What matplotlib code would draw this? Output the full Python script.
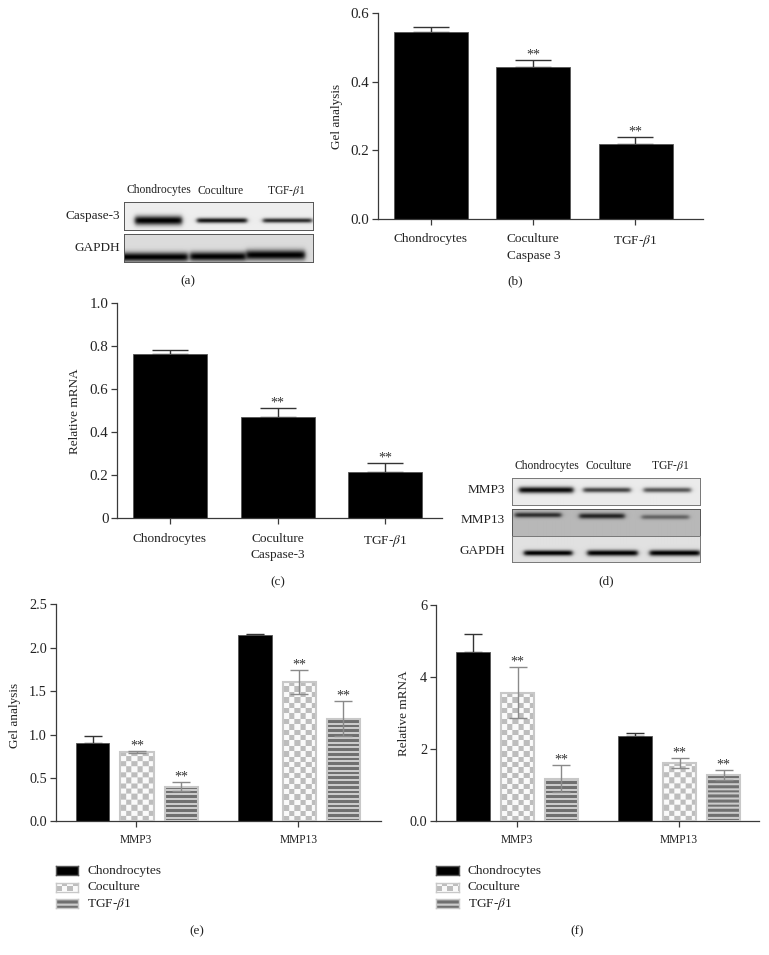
#!/usr/bin/env python3
"""Six panel figure: western blots (a, d) and bar charts (b, c, e, f)."""
import matplotlib
matplotlib.use("Agg")
import matplotlib.pyplot as plt
import numpy as np

plt.rcParams["font.family"] = ["Liberation Serif", "DejaVu Serif"]
plt.rcParams["mathtext.fontset"] = "stix"

W, H = 769, 955
AXC = "#3a3a3a"
TGF = r"TGF-$\beta$1"

groups_single = ["Chondrocytes", "Coculture", TGF]
groups_legend = ["Chondrocytes", "Coculture", TGF]
groups_mmp = ["MMP3", "MMP13"]

# bar heights and error bar tops
gel_casp = [0.545, 0.442, 0.218]
gel_casp_top = [0.561, 0.465, 0.239]
mrna_casp = [0.762, 0.470, 0.216]
mrna_casp_top = [0.779, 0.510, 0.257]

gel_mmp3 = [0.90, 0.795, 0.40]
gel_mmp3_top = [0.983, 0.806, 0.449]
gel_mmp13 = [2.143, 1.608, 1.182]
gel_mmp13_top = [2.155, 1.747, 1.382]

mrna_mmp3 = [4.70, 3.57, 1.18]
mrna_mmp3_top = [5.19, 4.27, 1.55]
mrna_mmp13 = [2.37, 1.61, 1.28]
mrna_mmp13_top = [2.44, 1.75, 1.42]

# blot bands: x start, x end, y centre, thickness, darkness (px inside each strip)
bands_casp = [(11, 58, 18.5, 4.6, 1.0), (73, 123, 18.5, 2.6, 0.9), (139, 188, 18.5, 2.4, 0.8)]
bands_gapdh_a = [(-6, 64, 23, 4.6, 1.0), (66, 122, 22.5, 4.6, 1.0), (122, 181, 21, 5.0, 1.0)]
bands_mmp3 = [(7, 61, 12, 3.2, 0.95), (71, 118, 12, 2.6, 0.7), (131, 178, 12, 2.6, 0.62)]
bands_mmp13 = [(3, 49, 6, 2.6, 0.75), (67, 112, 7, 2.8, 0.8), (129, 176, 8, 2.4, 0.45)]
bands_gapdh_d = [(12, 60, 17, 2.8, 1.0), (75, 125, 17, 3.0, 1.0), (137, 187, 17, 3.0, 1.0)]

fig = plt.figure(figsize=(W / 100, H / 100), dpi=100)


def px_axes(x0, y0, x1, y1):
    return fig.add_axes([x0 / W, 1 - y1 / H, (x1 - x0) / W, (y1 - y0) / H])


def px_text(x, y, s, size=9.5, ha="center", va="center", **kw):
    fig.text(x / W, 1 - y / H, s, fontsize=size, ha=ha, va=va, color="#222222", **kw)


def blot(x0, y0, x1, y1, bands, bg, edge="#555555"):
    w, h = int(x1 - x0), int(round(y1 - y0))
    xx, yy = np.meshgrid(np.arange(w) + 0.5, np.arange(h) + 0.5)
    img = np.full((h, w), float(bg))
    for a, b, yc, th, dark in bands:
        across = np.exp(-((yy - yc) / th) ** 2)
        along = 0.5 * (np.tanh((xx - a) / 2.5) - np.tanh((xx - b) / 2.5))
        img = img * (1 - dark * across * along)
    ax = px_axes(x0, y0, x1, y1)
    ax.imshow(img, cmap="gray", vmin=0, vmax=1, aspect="auto", interpolation="bilinear")
    ax.set_xticks([]); ax.set_yticks([])
    for sp in ax.spines.values():
        sp.set_color(edge); sp.set_linewidth(0.7)


def pattern(kind, w_px, h_px):
    w_px, h_px = max(int(w_px), 1), max(int(round(h_px)), 1)
    yy, xx = np.mgrid[0:h_px, 0:w_px]
    if kind == "check":
        cell = 5.4
        on = ((xx // cell).astype(int) + ((h_px - yy) // cell).astype(int)) % 2 == 0
        return np.where(on, 0.74, 0.98)
    period = 4.7
    on = ((h_px - yy) % period) < 2.7
    return np.where(on, 0.44, 0.80)


def draw_bar(ax, x, val, width, style, px_w, px_h):
    if style == "solid":
        ax.bar(x, val, width, color="black", edgecolor="#555555", linewidth=0.6, zorder=2)
        return
    img = pattern(style, px_w, px_h)
    ax.imshow(img, cmap="gray", vmin=0, vmax=1, aspect="auto", interpolation="bilinear",
              extent=(x - width / 2, x + width / 2, 0, val), zorder=2)
    ax.bar(x, val, width, facecolor="none", edgecolor="#c8c8c8", linewidth=1.5, zorder=3)


def style_axes(ax, xlim, ylim, yticks, yticklabels, xticks, xticklabels, xsize, ysize):
    ax.set_xlim(*xlim); ax.set_ylim(*ylim)
    ax.set_yticks(yticks); ax.set_yticklabels(yticklabels, fontsize=ysize, color="#222222")
    ax.set_xticks(xticks); ax.set_xticklabels(xticklabels, fontsize=xsize, color="#222222")
    ax.spines["top"].set_visible(False); ax.spines["right"].set_visible(False)
    for s in ("left", "bottom"):
        ax.spines[s].set_color(AXC); ax.spines[s].set_linewidth(0.9)
    ax.tick_params(axis="both", length=4.3, width=0.9, color=AXC)
    ax.tick_params(axis="y", pad=2)
    ax.tick_params(axis="x", pad=6 if xsize > 9 else 5)
    ax.patch.set_alpha(0)


def mark(ax, x, top):
    ax.annotate("**", (x, top), xytext=(0, 1.0), textcoords="offset points",
                ha="center", va="baseline", fontsize=10, color="#333333", zorder=6)


def single_panel(box, px_centres, px_barw, vals, tops, ylim, yticks, yticklabels):
    x0, y0, x1, y1 = box
    ax = px_axes(*box)
    step = (px_centres[2] - px_centres[0]) / 2
    xlim = ((x0 - px_centres[0]) / step, (x1 - px_centres[0]) / step)
    xs = np.arange(len(vals))
    width = px_barw / step
    ax.bar(xs, vals, width, color="black", edgecolor="#555555", linewidth=0.6, zorder=2)
    ax.errorbar(xs, vals, yerr=[np.zeros(len(vals)), np.array(tops) - np.array(vals)], fmt="none",
                ecolor="#333333", elinewidth=1.0, capsize=13, capthick=1.0, zorder=1)
    for i in (1, 2):
        mark(ax, xs[i], tops[i])
    style_axes(ax, xlim, ylim, yticks, yticklabels, xs, groups_single, 9.6, 10.8)
    return ax


def group_panel(box, px_bars, px_barw, series, ylim, yticks, yticklabels, px_groups):
    x0, y0, x1, y1 = box
    ax = px_axes(*box)
    # x data units are pixels from the first group tick, so bars keep their spacing
    org = px_groups[0]
    xlim = (x0 - org, x1 - org)
    styles = ["solid", "check", "stripe"]
    yscale = (y1 - y0) / (ylim[1] - ylim[0])
    for g, (vals, tops) in enumerate(series):
        for i, (v, t) in enumerate(zip(vals, tops)):
            xc = px_bars[g][i] - org
            draw_bar(ax, xc, v, px_barw, styles[i], px_barw, v * yscale)
            if i == 0:
                ax.errorbar(xc, v, yerr=[[0], [t - v]], fmt="none", ecolor="#333333",
                            elinewidth=1.0, capsize=6.8, capthick=1.0, zorder=1)
            else:
                ax.errorbar(xc, v, yerr=t - v, fmt="none", ecolor="#8a8a8a",
                            elinewidth=1.0, capsize=6.8, capthick=1.0, zorder=5)
                mark(ax, xc, t)
    style_axes(ax, xlim, ylim, yticks, yticklabels,
               [p - org for p in px_groups], groups_mmp, 8.3, 10.3)
    return ax


def legend(x0, ys, text_x):
    for name, y, st in zip(groups_legend, ys, ["solid", "check", "stripe"]):
        ax = px_axes(x0, y - 4.5, x0 + 22.5, y + 4.5)
        if st == "solid":
            ax.set_facecolor("black")
        else:
            ax.imshow(pattern(st, 23, 9), cmap="gray", vmin=0, vmax=1, aspect="auto",
                      interpolation="bilinear")
        ax.set_xticks([]); ax.set_yticks([])
        for sp in ax.spines.values():
            sp.set_color("#555555" if st == "solid" else "#c8c8c8"); sp.set_linewidth(1.0)
        px_text(text_x, y, name, size=9.6, ha="left")


# (a) blot
blot(124, 202, 313, 230, bands_casp, 0.93)
blot(124, 234, 313, 262, bands_gapdh_a, 0.86)
px_text(159, 190.5, "Chondrocytes", 8.4)
px_text(221, 190.5, "Coculture", 8.4)
px_text(286, 190.5, TGF, 8.4)
px_text(120, 216.5, "Caspase-3", 9.5, ha="right")
px_text(120, 247.5, "GAPDH", 9.5, ha="right")
px_text(188, 281, "(a)")

# (b)
single_panel((378, 13.3, 703, 219), [430.5, 533.7, 635.5], 74, gel_casp, gel_casp_top,
             (0, 0.6), [0, 0.2, 0.4, 0.6], ["0.0", "0.2", "0.4", "0.6"])
px_text(337, 116.5, "Gel analysis", 9.5, rotation=90)
px_text(533.5, 256, "Caspase 3")
px_text(515, 281, "(b)")

# (c)
single_panel((117.3, 302.7, 441.7, 518.3), [169.7, 277.5, 385.3], 74, mrna_casp, mrna_casp_top,
             (0, 1.0), [0, 0.2, 0.4, 0.6, 0.8, 1.0], ["0", "0.2", "0.4", "0.6", "0.8", "1.0"])
px_text(75.5, 411, "Relative mRNA", 9.5, rotation=90)
px_text(278, 555, "Caspase-3")
px_text(278, 582, "(c)")

# (d) blot
blot(512, 478, 700, 505, bands_mmp3, 0.92, edge="#777777")
blot(512, 509, 700, 536, bands_mmp13, 0.72, edge="#555555")
blot(512, 536, 700, 562, bands_gapdh_d, 0.88, edge="#777777")
px_text(546.5, 466, "Chondrocytes", 8.4)
px_text(609, 466, "Coculture", 8.4)
px_text(670, 466, TGF, 8.4)
px_text(505, 490, "MMP3", 9.5, ha="right")
px_text(505, 520, "MMP13", 9.5, ha="right")
px_text(505, 551, "GAPDH", 9.5, ha="right")
px_text(606, 581, "(d)")

# (e)
group_panel((55.7, 604.3, 380.7, 821.3),
            [[92.7, 137, 181.3], [254.8, 299.3, 343.3]], 33.5,
            [(gel_mmp3, gel_mmp3_top), (gel_mmp13, gel_mmp13_top)],
            (0, 2.5), [0, 0.5, 1.0, 1.5, 2.0, 2.5], ["0.0", "0.5", "1.0", "1.5", "2.0", "2.5"],
            [136, 298.3])
px_text(15, 715, "Gel analysis", 9.5, rotation=90)
legend(55.7, [870.5, 887, 903.5], 87.3)
px_text(197, 931, "(e)")

# (f)
group_panel((436, 605, 759.3, 821.3),
            [[473.2, 517.5, 561.3], [634.8, 679.5, 723.6]], 33.5,
            [(mrna_mmp3, mrna_mmp3_top), (mrna_mmp13, mrna_mmp13_top)],
            (0, 6), [0, 2, 4, 6], ["0.0", "2", "4", "6"],
            [516.7, 678.7])
px_text(404, 713, "Relative mRNA", 9.5, rotation=90)
legend(436, [870.5, 887, 903.5], 467.5)
px_text(577, 931, "(f)")

fig.savefig("out.png", dpi=100)
